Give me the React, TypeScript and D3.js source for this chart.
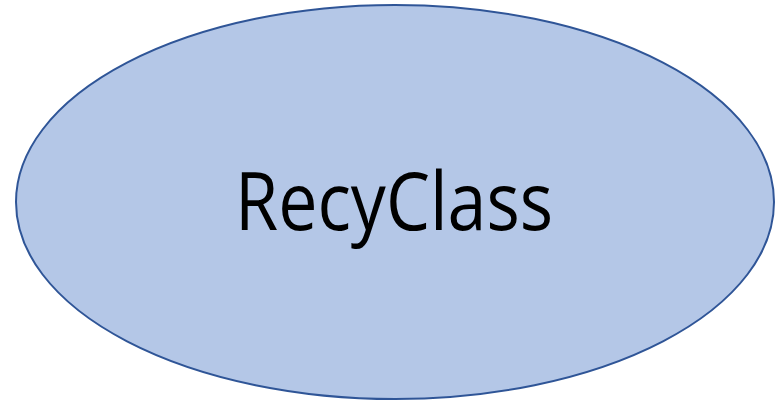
import React from "react";
import * as d3 from "d3";

// single node diagram
const labels = ["RecyClass"];
const fills = ["#B4C7E7"];

const width = 782;
const height = 404;

const App = () => {
  // scales map the unit box to the ellipse bounds
  const x = d3.scaleLinear().domain([-1, 1]).range([16, 774]);
  const y = d3.scaleLinear().domain([-1, 1]).range([5, 399]);
  const cx = x(0);
  const cy = y(0);
  const rx = (x(1) - x(-1)) / 2;
  const ry = (y(1) - y(-1)) / 2;

  return (
    <svg
      width={width}
      height={height}
      style={{ position: "absolute", left: 0, top: 0, background: "#fff" }}
    >
      {labels.map((label, i) => (
        <g key={label}>
          <ellipse
            cx={cx}
            cy={cy}
            rx={rx}
            ry={ry}
            fill={fills[i]}
            stroke="#2F5597"
            strokeWidth={2}
          />
          <text
            x={394}
            y={230}
            textAnchor="middle"
            fontFamily="'Open Sans', sans-serif"
            fontSize={80}
            fill="#000"
            textLength={318}
            lengthAdjust="spacingAndGlyphs"
          >
            {label}
          </text>
        </g>
      ))}
    </svg>
  );
};

export default App;
